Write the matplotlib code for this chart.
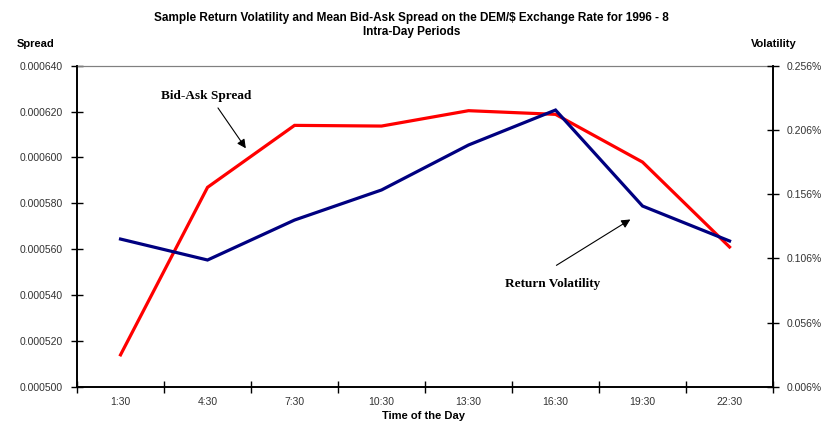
import matplotlib.pyplot as plt
import numpy as np

# данные
times = ['1:30', '4:30', '7:30', '10:30', '13:30', '16:30', '19:30', '22:30']
spread = [0.000514, 0.000587, 0.000614, 0.0006137, 0.0006204, 0.0006188, 0.000598, 0.000561]
volatility = [0.1211, 0.1048, 0.1359, 0.1593, 0.1943, 0.2215, 0.1468, 0.1196]  # в %

spread_ticks = [0.000500, 0.000520, 0.000540, 0.000560, 0.000580, 0.000600, 0.000620, 0.000640]
vol_ticks = [0.006, 0.056, 0.106, 0.156, 0.206, 0.256]

plt.rcParams['font.family'] = ['Liberation Sans', 'DejaVu Sans']

fig = plt.figure(figsize=(8.23, 4.22), dpi=100)
ax = fig.add_axes([0.0936, 0.083, 0.8457, 0.7613])
ax2 = ax.twinx()

x = np.arange(len(times))
ax.plot(x, spread, color='#ff0000', lw=2.3, solid_joinstyle='miter', zorder=3)
ax2.plot(x, volatility, color='#000080', lw=2.3, solid_joinstyle='miter', zorder=3)

ax.set_xlim(-0.5, len(times) - 0.5)
ax.set_ylim(spread_ticks[0], spread_ticks[-1])
ax2.set_ylim(vol_ticks[0], vol_ticks[-1])

# подписи осей
ax.set_yticks(spread_ticks)
ax.set_yticklabels(['%.6f' % v for v in spread_ticks])
ax2.set_yticks(vol_ticks)
ax2.set_yticklabels(['%.3f%%' % v for v in vol_ticks])

ax.set_xticks(np.arange(-0.5, len(times), 1.0))
ax.set_xticklabels([])
ax.set_xticks(x, minor=True)
ax.set_xticklabels(times, minor=True)

tick_color = '#333333'
ax.tick_params(axis='x', which='major', direction='inout', length=8, width=1)
ax.tick_params(axis='x', which='minor', length=0, pad=7, labelsize=7.5, labelcolor=tick_color)
ax.tick_params(axis='y', direction='inout', length=8, width=1, labelsize=7.5, labelcolor=tick_color, pad=6)
ax2.tick_params(axis='y', direction='inout', length=8, width=1, labelsize=7.5, labelcolor=tick_color, pad=6)

for a in (ax, ax2):
    a.spines['top'].set_color('#808080')
    a.spines['top'].set_linewidth(0.8)
    a.spines['top'].set_zorder(0)
    a.spines['left'].set_linewidth(1.2)
    a.spines['right'].set_linewidth(1.2)
    a.spines['bottom'].set_linewidth(1.2)

# заголовок и подписи
fig.text(0.5, 0.972, 'Sample Return Volatility and Mean Bid-Ask Spread on the DEM/$ Exchange Rate for 1996 - 8\nIntra-Day Periods',
         ha='center', va='top', fontsize=8.5, fontweight='bold', linespacing=1.25)
fig.text(0.02, 0.895, 'Spread', ha='left', va='center', fontsize=8, fontweight='bold')
fig.text(0.968, 0.895, 'Volatility', ha='right', va='center', fontsize=8, fontweight='bold')
fig.text(0.514, 0.014, 'Time of the Day', ha='center', va='center', fontsize=8, fontweight='bold')

# аннотации
ax.text(0.99, 0.000627, 'Bid-Ask Spread', ha='center', va='center',
        fontsize=9.5, fontweight='bold', family='Liberation Serif')
ax.annotate('', xy=(1.44, 0.000604), xytext=(1.12, 0.0006216),
            arrowprops=dict(arrowstyle='-|>', color='black', lw=0.8, shrinkA=0, shrinkB=0,
                            mutation_scale=13))
ax.text(4.97, 0.000545, 'Return Volatility', ha='center', va='center',
        fontsize=9.5, fontweight='bold', family='Liberation Serif')
ax.annotate('', xy=(5.86, 0.000573), xytext=(5.01, 0.000553),
            arrowprops=dict(arrowstyle='-|>', color='black', lw=0.8, shrinkA=0, shrinkB=0,
                            mutation_scale=13))

plt.savefig('out.png', dpi=100)
